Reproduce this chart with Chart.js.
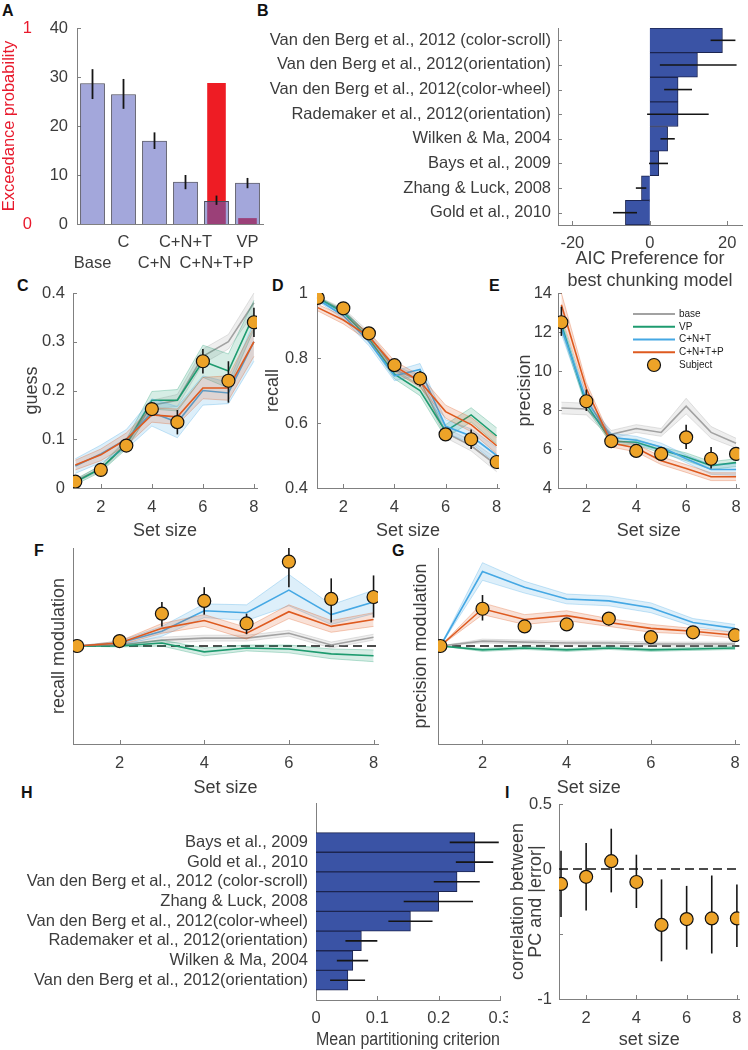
<!DOCTYPE html>
<html><head><meta charset="utf-8">
<script src="https://cdn.jsdelivr.net/npm/chart.js@4.4.1/dist/chart.umd.min.js"></script>
<style>
html,body{margin:0;padding:0;background:#fff}
body{width:748px;height:1050px;position:relative;overflow:hidden;font-family:'Liberation Sans',Arial,Helvetica,sans-serif}
canvas{position:absolute}
.pl{position:absolute;font-weight:bold;font-size:16px;line-height:16px;color:#111}
</style></head><body>
<div class="pl" style="left:2px;top:3px">A</div>
<div class="pl" style="left:257px;top:3px">B</div>
<div class="pl" style="left:17px;top:278px">C</div>
<div class="pl" style="left:272px;top:278px">D</div>
<div class="pl" style="left:489px;top:278px">E</div>
<div class="pl" style="left:34px;top:543px">F</div>
<div class="pl" style="left:392px;top:543px">G</div>
<div class="pl" style="left:21px;top:785px">H</div>
<div class="pl" style="left:505px;top:785px">I</div>
<script>
// ---------------- DATA ----------------
const setSizes = [1, 2, 3, 4, 5, 6, 7, 8];
const xTicks = [2, 4, 6, 8];

// Panel A
const modelNames = ['Base', 'C', 'C+N', 'C+N+T', 'C+N+T+P', 'VP'];
const aicMean = [28.7, 26.5, 17.0, 8.6, 4.7, 8.4];
const aicLo = [25.5, 23.5, 15.3, 7.1, 3.9, 7.3];
const aicHi = [31.6, 29.6, 18.7, 10.0, 5.8, 9.4];
const exceedProb = [0, 0, 0, 0, 0.72, 0.03];
const aTicks = [0, 10, 20, 30, 40];
const probTicks = [0, 1];

// Panel B
const bLabels = ['Van den Berg et al., 2012 (color-scroll)', 'Van den Berg et al., 2012(orientation)',
  'Van den Berg et al., 2012(color-wheel)', 'Rademaker et al., 2012(orientation)', 'Wilken & Ma, 2004',
  'Bays et al., 2009', 'Zhang & Luck, 2008', 'Gold et al., 2010'];
const bPref = [18.75, 12.3, 7.3, 7.3, 4.6, 2.3, -2.15, -6.3];
const bLo = [15.7, 2.6, 3.7, -0.7, 2.75, -0.2, -3.6, -9.5];
const bHi = [22.1, 22.4, 10.9, 15.2, 6.45, 4.7, -0.9, -3.3];
const bTicks = [-20, 0, 20];

// Panel C (guess)
const guessSubj = [0.013, 0.037, 0.087, 0.162, 0.135, 0.26, 0.22, 0.34];
const guessLo = [0.008, 0.03, 0.08, 0.15, 0.11, 0.235, 0.175, 0.31];
const guessHi = [0.018, 0.045, 0.095, 0.175, 0.16, 0.285, 0.26, 0.37];
const guessBase = [0.015, 0.04, 0.09, 0.17, 0.18, 0.27, 0.30, 0.38];
const guessBaseSd = [0.004, 0.005, 0.007, 0.01, 0.012, 0.015, 0.015, 0.02];
const guessVP = [0.012, 0.04, 0.09, 0.18, 0.18, 0.26, 0.24, 0.355];
const guessVPSd = [0.005, 0.007, 0.01, 0.018, 0.022, 0.033, 0.035, 0.03];
const guessCNT = [0.045, 0.07, 0.1, 0.155, 0.135, 0.2, 0.195, 0.3];
const guessCNTSd = [0.015, 0.018, 0.02, 0.028, 0.032, 0.03, 0.022, 0.04];
const guessCNTP = [0.047, 0.068, 0.1, 0.15, 0.146, 0.205, 0.205, 0.3];
const guessCNTPSd = [0.01, 0.012, 0.013, 0.015, 0.016, 0.022, 0.025, 0.03];
const guessTicks = [0, 0.1, 0.2, 0.3, 0.4];

// Panel D (recall)
const recallSubj = [0.985, 0.953, 0.876, 0.778, 0.737, 0.565, 0.55, 0.48];
const recallLo = [0.98, 0.945, 0.868, 0.765, 0.712, 0.55, 0.52, 0.465];
const recallHi = [0.99, 0.96, 0.884, 0.79, 0.76, 0.58, 0.58, 0.5];
const recallBase = [0.985, 0.945, 0.87, 0.765, 0.73, 0.57, 0.53, 0.47];
const recallBaseSd = [0.004, 0.008, 0.01, 0.012, 0.014, 0.015, 0.016, 0.02];
const recallVP = [0.985, 0.94, 0.86, 0.75, 0.7, 0.575, 0.625, 0.56];
const recallVPSd = [0.004, 0.008, 0.01, 0.014, 0.016, 0.02, 0.022, 0.025];
const recallCNT = [0.98, 0.93, 0.85, 0.745, 0.765, 0.59, 0.56, 0.5];
const recallCNTSd = [0.005, 0.01, 0.012, 0.015, 0.018, 0.02, 0.022, 0.025];
const recallCNTP = [0.955, 0.917, 0.866, 0.775, 0.728, 0.635, 0.595, 0.53];
const recallCNTPSd = [0.01, 0.012, 0.014, 0.016, 0.018, 0.02, 0.022, 0.025];
const recallTicks = [0.4, 0.6, 0.8, 1];

// Panel E (precision)
const precSubj = [12.5, 8.45, 6.4, 5.9, 5.75, 6.6, 5.5, 5.75];
const precLo = [11.8, 7.95, 6.2, 5.7, 5.55, 6.0, 5.0, 5.4];
const precHi = [13.3, 9.05, 6.6, 6.1, 5.95, 7.25, 6.1, 6.1];
const precBase = [8.1, 8.05, 6.75, 7.05, 6.85, 8.2, 6.85, 6.3];
const precBaseSd = [0.3, 0.3, 0.2, 0.2, 0.2, 0.4, 0.3, 0.25];
const precVP = [12.4, 8.3, 6.4, 6.35, 5.95, 5.6, 5.15, 5.3];
const precVPSd = [0.3, 0.2, 0.15, 0.15, 0.15, 0.2, 0.2, 0.2];
const precCNT = [12.2, 8.5, 6.6, 6.45, 6.1, 5.5, 4.95, 4.95];
const precCNTSd = [0.3, 0.25, 0.2, 0.2, 0.2, 0.2, 0.25, 0.3];
const precCNTP = [13.4, 9.1, 6.3, 6.05, 5.4, 5.0, 4.58, 4.58];
const precCNTPSd = [0.6, 0.3, 0.2, 0.2, 0.2, 0.2, 0.2, 0.2];
const precTicks = [4, 6, 8, 10, 12, 14];

// Panel F (recall modulation)
const rmodSubj = [0, 0.05, 0.33, 0.46, 0.23, 0.86, 0.48, 0.5];
const rmodLo = [0, 0.03, 0.2, 0.32, 0.12, 0.6, 0.24, 0.29];
const rmodHi = [0, 0.07, 0.45, 0.6, 0.33, 1.0, 0.69, 0.72];
const rmodBase = [0, 0.01, 0.06, 0.08, 0.08, 0.13, 0.01, 0.09];
const rmodBaseSd = [0, 0.01, 0.03, 0.03, 0.03, 0.03, 0.03, 0.03];
const rmodVP = [0, 0.0, 0.03, -0.06, -0.02, -0.03, -0.08, -0.1];
const rmodVPSd = [0, 0.01, 0.03, 0.04, 0.03, 0.04, 0.05, 0.06];
const rmodCNT = [0, 0.03, 0.15, 0.36, 0.34, 0.57, 0.32, 0.45];
const rmodCNTSd = [0, 0.02, 0.05, 0.07, 0.08, 0.16, 0.1, 0.12];
const rmodCNTP = [0, 0.03, 0.18, 0.26, 0.13, 0.35, 0.2, 0.27];
const rmodCNTPSd = [0, 0.02, 0.05, 0.06, 0.06, 0.07, 0.06, 0.07];

// Panel G (precision modulation)
const pmodSubj = [0, 0.38, 0.2, 0.22, 0.28, 0.09, 0.14, 0.11];
const pmodLo = [0, 0.26, 0.15, 0.17, 0.21, 0.06, 0.1, 0.07];
const pmodHi = [0, 0.52, 0.25, 0.27, 0.34, 0.13, 0.19, 0.15];
const pmodBase = [0, 0.05, 0.04, 0.03, 0.03, 0.02, 0.02, 0.02];
const pmodBaseSd = [0, 0.02, 0.02, 0.02, 0.02, 0.02, 0.02, 0.02];
const pmodVP = [0, -0.04, -0.02, -0.04, -0.02, -0.04, -0.03, -0.02];
const pmodVPSd = [0, 0.015, 0.015, 0.015, 0.015, 0.015, 0.015, 0.015];
const pmodCNT = [0, 0.76, 0.6, 0.48, 0.46, 0.39, 0.24, 0.18];
const pmodCNTSd = [0, 0.09, 0.06, 0.05, 0.05, 0.05, 0.04, 0.04];
const pmodCNTP = [0, 0.38, 0.27, 0.31, 0.24, 0.18, 0.15, 0.11];
const pmodCNTPSd = [0, 0.06, 0.05, 0.05, 0.04, 0.04, 0.03, 0.03];

// Panel H
const hLabels = ['Bays et al., 2009', 'Gold et al., 2010', 'Van den Berg et al., 2012 (color-scroll)',
  'Zhang & Luck, 2008', 'Van den Berg et al., 2012(color-wheel)', 'Rademaker et al., 2012(orientation)',
  'Wilken & Ma, 2004', 'Van den Berg et al., 2012(orientation)'];
const hMean = [0.259, 0.259, 0.23, 0.2, 0.154, 0.074, 0.06, 0.052];
const hLo = [0.218, 0.228, 0.192, 0.143, 0.118, 0.048, 0.034, 0.023];
const hHi = [0.298, 0.289, 0.267, 0.256, 0.19, 0.1, 0.085, 0.08];
const hTicks = [0, 0.1, 0.2, 0.3];

// Panel I
const corrSubj = [-0.115, -0.06, 0.06, -0.1, -0.43, -0.385, -0.38, -0.38];
const corrLo = [-0.37, -0.32, -0.18, -0.3, -0.71, -0.62, -0.65, -0.6];
const corrHi = [0.14, 0.2, 0.31, 0.11, -0.08, -0.13, -0.05, -0.12];
const corrTicks = [-1, -0.5, 0, 0.5];

const legendItems = ['base', 'VP', 'C+N+T', 'C+N+T+P', 'Subject'];

// ---------------- STYLE ----------------
const FONT = "'Liberation Sans', Arial, Helvetica, sans-serif";
const TXT = '#3c3c3c', AX = '#808080', RED = '#e8192c';
const C_BASE = '#a2a2a2', C_VP = '#1e9b6f', C_CNT = '#45a8e4', C_CNTP = '#de5a1f';
const SUBJ = '#EDA328', BLUE = '#3a53a5', BLUE_EDGE = '#1c2550';
const legendColors = [C_BASE, C_VP, C_CNT, C_CNTP, null];
const TSHIFT = 3; // visual shift of axis titles
const TK = 16.5;  // tick label font size
Chart.defaults.font.family = FONT;
Chart.defaults.color = TXT;

function rgba(hex, a) { const n = parseInt(hex.slice(1), 16); return `rgba(${n >> 16 & 255},${n >> 8 & 255},${n & 255},${a})`; }
const common = {responsive: false, animation: false, devicePixelRatio: 1, events: [],
  plugins: {legend: {display: false}, tooltip: {enabled: false}}};
const NOGRID = {display: false, drawTicks: false, tickLength: 0};
const fitW = w => s => { s.width = w; s.paddingTop = 0; s.paddingBottom = 0; s.paddingLeft = 0; s.paddingRight = 0; };
const fitH = h => s => { s.height = h; s.paddingTop = 0; s.paddingBottom = 0; s.paddingLeft = 0; s.paddingRight = 0; };
const setTicks = vals => s => { s.ticks = vals.map(v => ({value: v})); };
const xTitlePad = (mb, dy, n = 1) => ({top: 0, bottom: mb - dy - TSHIFT - 10.8 - 21.6 * (n - 1)});

function mkCanvas(rect, m) {
  const c = document.createElement('canvas');
  const w = rect.r - rect.l + m.l + m.r, h = rect.b - rect.t + m.t + m.b;
  c.width = w; c.height = h;
  c.style.left = (rect.l - m.l) + 'px'; c.style.top = (rect.t - m.t) + 'px';
  c.style.width = w + 'px'; c.style.height = h + 'px';
  document.body.appendChild(c);
  return c;
}

// error bars plugin (uses dataset errLo/errHi through the value scale)
function drawErr(chart, ds, meta) {
  const ctx = chart.ctx;
  const horiz = chart.options.indexAxis === 'y';
  const vs = chart.scales[horiz ? meta.xAxisID : meta.yAxisID];
  ctx.save();
  ctx.strokeStyle = '#151515'; ctx.lineWidth = ds.errWidth || 1.6;
  meta.data.forEach((el, i) => {
    if (ds.errLo[i] === ds.errHi[i]) return;
    const a = vs.getPixelForValue(ds.errLo[i]), b = vs.getPixelForValue(ds.errHi[i]);
    ctx.beginPath();
    if (horiz) { ctx.moveTo(a, el.y); ctx.lineTo(b, el.y); } else { ctx.moveTo(el.x, a); ctx.lineTo(el.x, b); }
    ctx.stroke();
  });
  ctx.restore();
}
Chart.register({
  id: 'errBars',
  beforeDatasetDraw(chart, args) { const ds = chart.data.datasets[args.index]; if (ds.errLo && !ds.errAfter) drawErr(chart, ds, args.meta); },
  afterDatasetDraw(chart, args) { const ds = chart.data.datasets[args.index]; if (ds.errLo && ds.errAfter) drawErr(chart, ds, args.meta); }
});
function innerTicks(ids, len = 4) {
  return {id: 'innerTicks', beforeDatasetsDraw(chart) {
    const {ctx, chartArea: ca} = chart;
    ctx.save(); ctx.strokeStyle = AX; ctx.lineWidth = 1;
    ids.forEach(id => {
      const s = chart.scales[id];
      s.ticks.forEach((t, i) => {
        const p = Math.round(s.getPixelForTick(i)) + 0.5;
        ctx.beginPath();
        if (s.isHorizontal()) { ctx.moveTo(p, ca.bottom); ctx.lineTo(p, ca.bottom - len); }
        else { ctx.moveTo(ca.left, p); ctx.lineTo(ca.left + len, p); }
        ctx.stroke();
      });
    });
    ctx.restore();
  }};
}
function zeroLine(v) {
  return {id: 'zeroLine', beforeDatasetsDraw(chart) {
    const {ctx, chartArea: ca} = chart;
    const y = chart.scales.y.getPixelForValue(v);
    ctx.save(); ctx.setLineDash([9, 5]); ctx.strokeStyle = '#111'; ctx.lineWidth = 1.5;
    ctx.beginPath(); ctx.moveTo(ca.left, y); ctx.lineTo(ca.right, y); ctx.stroke(); ctx.restore();
  }};
}
const eLegend = {id: 'eLegend', afterDatasetsDraw(chart) {
  const {ctx, chartArea: ca} = chart;
  ctx.save();
  ctx.font = `10px ${FONT}`; ctx.textBaseline = 'middle';
  legendItems.forEach((lab, i) => {
    const y = ca.top + 21 + i * 12.75, x0 = ca.left + 75;
    if (legendColors[i]) {
      ctx.strokeStyle = legendColors[i]; ctx.lineWidth = 2;
      ctx.beginPath(); ctx.moveTo(x0, y); ctx.lineTo(x0 + 42, y); ctx.stroke();
    } else {
      ctx.beginPath(); ctx.arc(x0 + 21, y, 6.5, 0, Math.PI * 2);
      ctx.fillStyle = SUBJ; ctx.fill(); ctx.lineWidth = 1.2; ctx.strokeStyle = '#111'; ctx.stroke();
    }
    ctx.fillStyle = '#222'; ctx.fillText(lab, x0 + 46, y);
  });
  ctx.restore();
}};

function linePanel(p) {
  const {rect, m} = p;
  const canvas = mkCanvas(rect, m);
  const pts = arr => setSizes.map((x, i) => ({x, y: arr[i]}));
  const datasets = [];
  (p.models || []).forEach(md => {
    const lo = md.c.map((v, i) => v - md.h[i]);
    const hi = md.c.map((v, i) => v + md.h[i]);
    datasets.push({data: pts(lo), borderColor: rgba(md.color, 0.3), borderWidth: 1, pointRadius: 0, fill: false, order: md.order + 2});
    datasets.push({data: pts(hi), borderColor: rgba(md.color, 0.3), borderWidth: 1, pointRadius: 0, fill: '-1', backgroundColor: rgba(md.color, 0.18), order: md.order + 1});
    datasets.push({data: pts(md.c), borderColor: md.color, borderWidth: 1.6, pointRadius: 0, fill: false, order: md.order});
  });
  datasets.push({data: pts(p.subj), showLine: false, pointRadius: 6.5, pointHoverRadius: 6.5,
    pointBackgroundColor: SUBJ, pointBorderColor: '#111', pointBorderWidth: 1.2, order: 0, errLo: p.lo, errHi: p.hi});
  const ylh = 18 * (p.yTitleLh || 1.2);
  const plugins = [innerTicks(p.yTickMarks === false ? ['x'] : ['x', 'y'])];
  if (p.zero) plugins.push(zeroLine(0));
  if (p.legend) plugins.push(p.legend);
  return new Chart(canvas, {
    type: 'line',
    data: {datasets},
    options: {
      ...common,
      layout: {padding: {left: 0, top: m.t, right: m.r, bottom: 0}},
      scales: {
        x: {type: 'linear', min: p.xMin, max: p.xMax, afterBuildTicks: setTicks(xTicks), afterFit: fitH(m.b),
          grid: NOGRID, border: {display: true, color: AX, width: 1},
          ticks: {font: {size: TK}, color: TXT, padding: p.xPad, maxRotation: 0, autoSkip: false, callback: v => String(v)},
          title: {display: true, text: p.xTitle, color: TXT, font: {size: 18, lineHeight: 1.2},
            padding: xTitlePad(m.b, p.xTitleDy)}},
        y: {type: 'linear', min: p.yMin, max: p.yMax, afterBuildTicks: setTicks(p.yTicks), afterFit: fitW(m.l),
          grid: NOGRID, border: {display: true, color: AX, width: 1},
          ticks: {display: p.yTickLabels !== false, font: {size: TK}, color: TXT, padding: p.yPad, autoSkip: false,
            callback: p.yLabel || (v => String(v))},
          title: {display: true, text: p.yTitle, color: TXT, font: {size: 18, lineHeight: p.yTitleLh || 1.2},
            padding: {top: p.yTitleCx - (rect.l - m.l) - ylh / 2, bottom: 0}}}
      }
    },
    plugins
  });
}

// ---------------- PANEL A ----------------
(function () {
  const rect = {l: 77, t: 28, r: 263, b: 224}, m = {l: 77, t: 10, r: 8, b: 60};
  const canvas = mkCanvas(rect, m);
  new Chart(canvas, {
    type: 'bar',
    data: {labels: modelNames, datasets: [
      {data: aicMean, yAxisID: 'y', backgroundColor: 'rgba(88,94,190,0.55)', borderColor: '#4a4a5a', borderWidth: 1,
        barPercentage: 0.8, categoryPercentage: 1, grouped: false, order: 0, errLo: aicLo, errHi: aicHi, errAfter: true, errWidth: 1.8},
      {data: exceedProb, yAxisID: 'yp', backgroundColor: '#ee1c24', borderWidth: 0,
        barPercentage: 0.6, categoryPercentage: 1, grouped: false, order: 1}
    ]},
    options: {...common, layout: {padding: {left: 0, top: m.t, right: m.r, bottom: 0}},
      scales: {
        x: {type: 'category', afterFit: fitH(m.b), grid: NOGRID, border: {display: true, color: AX},
          ticks: {font: {size: TK, lineHeight: 1.27}, color: TXT, padding: 8, maxRotation: 0, minRotation: 0, autoSkip: false,
            callback: (v, i) => i % 2 ? [modelNames[i], ''] : ['', modelNames[i]]}},
        y: {type: 'linear', position: 'left', weight: 0, min: 0, max: 40, afterBuildTicks: setTicks(aTicks), afterFit: fitW(41),
          grid: NOGRID, border: {display: true, color: AX},
          ticks: {font: {size: TK}, color: TXT, padding: 9, callback: v => String(v)}},
        yp: {type: 'linear', position: 'left', weight: 10, min: 0, max: 1, afterBuildTicks: setTicks(probTicks), afterFit: fitW(36),
          grid: NOGRID, border: {display: false},
          ticks: {font: {size: TK}, color: RED, padding: 4, callback: v => String(v)},
          title: {display: true, text: 'Exceedance probability', color: RED, font: {size: 16.5, lineHeight: 1.2}, padding: {top: 0, bottom: 0}}}
      }},
    plugins: [innerTicks(['y'])]
  });
})();

// ---------------- PANEL B ----------------
(function () {
  const rect = {l: 558, t: 28, r: 742, b: 225}, m = {l: 330, t: 10, r: 6, b: 72};
  const canvas = mkCanvas(rect, m);
  new Chart(canvas, {
    type: 'bar',
    data: {labels: bLabels, datasets: [{data: bPref, backgroundColor: BLUE, borderColor: BLUE_EDGE, borderWidth: 1,
      barPercentage: 1, categoryPercentage: 1, errLo: bLo, errHi: bHi, errAfter: true, errWidth: 1.6}]},
    options: {...common, indexAxis: 'y', layout: {padding: {left: 0, top: m.t, right: m.r, bottom: 0}},
      scales: {
        x: {type: 'linear', min: -23.7, max: 23.8, afterBuildTicks: setTicks(bTicks), afterFit: fitH(m.b),
          grid: NOGRID, border: {display: true, color: AX},
          ticks: {font: {size: TK}, color: TXT, padding: 8.4, maxRotation: 0, autoSkip: false, callback: v => String(v)},
          title: {display: true, text: ['AIC Preference for', 'best chunking model'], color: TXT, font: {size: 18, lineHeight: 1.2},
            padding: xTitlePad(m.b, 31.5, 2)}},
        y: {type: 'category', afterFit: fitW(m.l), grid: NOGRID, border: {display: true, color: AX},
          ticks: {font: {size: TK}, color: TXT, padding: 7, autoSkip: false}}
      }},
    plugins: [innerTicks(['x', 'y'])]
  });
})();

// ---------------- PANELS C, D, E ----------------
linePanel({rect: {l: 73, t: 293, r: 257, b: 488}, m: {l: 73, t: 10, r: 8, b: 60},
  xMin: 0.91, xMax: 8.12, yMin: 0, yMax: 0.4, yTicks: guessTicks, yPad: 8, xPad: 9.4,
  yTitle: 'guess', yTitleCx: 32, xTitle: 'Set size', xTitleDy: 40,
  subj: guessSubj, lo: guessLo, hi: guessHi,
  models: [{c: guessBase, h: guessBaseSd, color: C_BASE, order: 40}, {c: guessVP, h: guessVPSd, color: C_VP, order: 30},
    {c: guessCNT, h: guessCNTSd, color: C_CNT, order: 20}, {c: guessCNTP, h: guessCNTPSd, color: C_CNTP, order: 10}]});

linePanel({rect: {l: 317, t: 293, r: 499, b: 488}, m: {l: 62, t: 10, r: 8, b: 60},
  xMin: 0.97, xMax: 8.09, yMin: 0.4, yMax: 1, yTicks: recallTicks, yPad: 9, xPad: 9.4,
  yTitle: 'recall', yTitleCx: 273, xTitle: 'Set size', xTitleDy: 40,
  subj: recallSubj, lo: recallLo, hi: recallHi,
  models: [{c: recallBase, h: recallBaseSd, color: C_BASE, order: 40}, {c: recallVP, h: recallVPSd, color: C_VP, order: 30},
    {c: recallCNT, h: recallCNTSd, color: C_CNT, order: 20}, {c: recallCNTP, h: recallCNTPSd, color: C_CNTP, order: 10}]});

linePanel({rect: {l: 558, t: 293, r: 741, b: 488}, m: {l: 58, t: 10, r: 6, b: 60},
  xMin: 0.865, xMax: 8.13, yMin: 4, yMax: 14, yTicks: precTicks, yPad: 6, xPad: 9.4,
  yTitle: 'precision', yTitleCx: 525, xTitle: 'Set size', xTitleDy: 40,
  subj: precSubj, lo: precLo, hi: precHi, legend: eLegend,
  models: [{c: precBase, h: precBaseSd, color: C_BASE, order: 40}, {c: precVP, h: precVPSd, color: C_VP, order: 30},
    {c: precCNT, h: precCNTSd, color: C_CNT, order: 20}, {c: precCNTP, h: precCNTPSd, color: C_CNTP, order: 10}]});

// ---------------- PANELS F, G ----------------
linePanel({rect: {l: 73, t: 548, r: 378, b: 744}, m: {l: 73, t: 10, r: 8, b: 60},
  xMin: 0.9, xMax: 8.105, yMin: -1, yMax: 1, yTicks: [0], yTickLabels: false, yTickMarks: false, yPad: 6, xPad: 9.4,
  yTitle: 'recall modulation', yTitleCx: 59, xTitle: 'Set size', xTitleDy: 41, zero: true,
  subj: rmodSubj, lo: rmodLo, hi: rmodHi,
  models: [{c: rmodBase, h: rmodBaseSd, color: C_BASE, order: 40}, {c: rmodVP, h: rmodVPSd, color: C_VP, order: 30},
    {c: rmodCNT, h: rmodCNTSd, color: C_CNT, order: 20}, {c: rmodCNTP, h: rmodCNTPSd, color: C_CNTP, order: 10}]});

linePanel({rect: {l: 438, t: 548, r: 741, b: 744}, m: {l: 60, t: 10, r: 6, b: 60},
  xMin: 0.943, xMax: 8.1, yMin: -1, yMax: 1, yTicks: [0], yTickLabels: false, yTickMarks: false, yPad: 6, xPad: 9.4,
  yTitle: 'precision modulation', yTitleCx: 421, xTitle: 'Set size', xTitleDy: 41, zero: true,
  subj: pmodSubj, lo: pmodLo, hi: pmodHi,
  models: [{c: pmodBase, h: pmodBaseSd, color: C_BASE, order: 40}, {c: pmodVP, h: pmodVPSd, color: C_VP, order: 30},
    {c: pmodCNT, h: pmodCNTSd, color: C_CNT, order: 20}, {c: pmodCNTP, h: pmodCNTPSd, color: C_CNTP, order: 10}]});

// ---------------- PANEL H ----------------
(function () {
  const rect = {l: 316, t: 803, r: 500, b: 1000}, m = {l: 310, t: 10, r: 8, b: 50};
  const canvas = mkCanvas(rect, m);
  const idx = hLabels.map((_, i) => i + 1);
  new Chart(canvas, {
    type: 'bar',
    data: {datasets: [{data: hMean.map((v, i) => ({x: v, y: idx[i]})), backgroundColor: BLUE, borderColor: BLUE_EDGE, borderWidth: 1,
      barPercentage: 1, categoryPercentage: 1, errLo: hLo, errHi: hHi, errAfter: true, errWidth: 1.6}]},
    options: {...common, indexAxis: 'y', layout: {padding: {left: 0, top: m.t, right: m.r, bottom: 0}},
      scales: {
        x: {type: 'linear', min: 0, max: 0.3, afterBuildTicks: setTicks(hTicks), afterFit: fitH(m.b),
          grid: NOGRID, border: {display: true, color: AX},
          ticks: {font: {size: TK}, color: TXT, padding: 8.4, maxRotation: 0, autoSkip: false, callback: v => String(v)},
          title: {display: true, text: 'Mean partitioning criterion', color: TXT, font: {size: 18, lineHeight: 1.2},
            padding: xTitlePad(m.b, 37)}},
        y: {type: 'linear', reverse: true, offset: false, min: -1, max: 9, afterBuildTicks: setTicks(idx), afterFit: fitW(m.l),
          grid: NOGRID, border: {display: true, color: AX},
          ticks: {font: {size: TK}, color: TXT, padding: 8, autoSkip: false, callback: v => hLabels[v - 1] || ''}}
      }},
    plugins: [innerTicks(['x'])]
  });
})();

// ---------------- PANEL I ----------------
linePanel({rect: {l: 559, t: 804, r: 742, b: 999}, m: {l: 55, t: 10, r: 5, b: 50},
  xMin: 0.92, xMax: 8.096, yMin: -1, yMax: 0.5, yTicks: corrTicks, yPad: 7, xPad: 9.4,
  yLabel: v => (v === -0.5 ? '' : String(v)),
  yTitle: ['correlation between', 'PC and |error|'], yTitleLh: 1.0, yTitleCx: 518,
  xTitle: 'set size', xTitleDy: 38, zero: true,
  subj: corrSubj, lo: corrLo, hi: corrHi, models: []});
</script>
</body></html>
